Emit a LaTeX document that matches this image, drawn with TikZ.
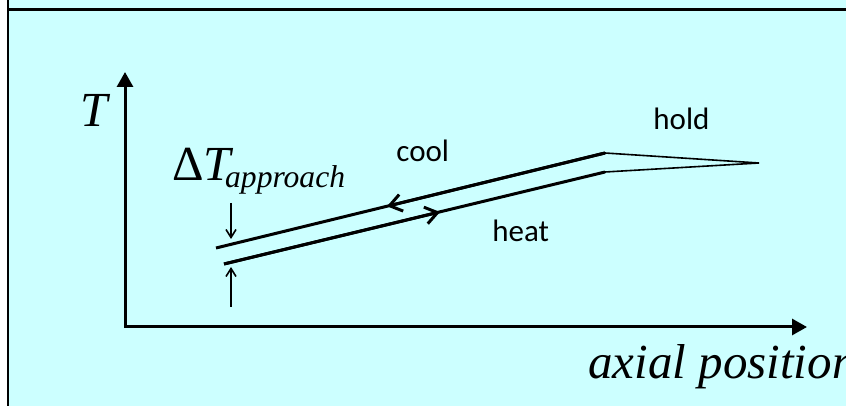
\documentclass[tikz,border=0pt]{standalone}
\usepackage{fontspec}
\setmainfont{Liberation Serif}
\newfontfamily\calfont{Carlito}
\usetikzlibrary{arrows.meta}
\definecolor{panelcyan}{RGB}{204,255,255}

\begin{document}
\begin{tikzpicture}[x=0.5pt, y=-0.5pt, >={Triangle[length=7.5pt,width=8pt]},
    lbl/.style={inner sep=0pt, anchor=base west},
    ital/.style={lbl, font=\fontsize{24.5}{28}\selectfont\itshape},
    cal/.style={lbl, font=\fontsize{15.5}{18}\selectfont\calfont},
    thickline/.style={line width=1.5pt},
    thinline/.style={line width=0.8pt},
    flowtip/.style={-{Straight Barb[length=6pt,width=8.5pt]}},
    gaptip/.style={-{Straight Barb[length=4pt,width=5pt]}}]
    % 背景面板
    \useasboundingbox (0,0) rectangle (846,406);
    \fill[panelcyan] (8,0) rectangle (846,406);
    \draw[line width=1.25pt] (8,0) -- (8,406);
    \draw[line width=1.5pt] (8,10) -- (846,10);

    % 坐标轴
    \coordinate (O) at (125,327);
    \coordinate (ytip) at (125,72);
    \coordinate (xtip) at (807,327);
    \draw[thickline,<->] (ytip) -- (O) -- (xtip);

    % 冷却线与加热线
    \coordinate (coolL) at (216,248);
    \coordinate (coolK) at (605,153);
    \coordinate (heatL) at (224,264);
    \coordinate (heatK) at (605,172);
    \coordinate (holdEnd) at (759,163);
    \coordinate (coolArr) at (387,206.3);
    \coordinate (heatArr) at (440,212);
    \draw[thickline] (coolL) -- (coolK);
    \draw[thickline] (heatL) -- (heatK);
    \draw[thickline,flowtip] (coolK) -- (coolArr);
    \draw[thickline,flowtip] (heatL) -- (heatArr);

    % 保温段
    \draw[thinline] (coolK) -- (holdEnd) -- (heatK);

    % 温差箭头
    \coordinate (gapTop) at (231,203);
    \coordinate (gapTopTip) at (231,239);
    \coordinate (gapBot) at (231,307);
    \coordinate (gapBotTip) at (231,267);
    \draw[thinline,gaptip] (gapTop) -- (gapTopTip);
    \draw[thinline,gaptip] (gapBot) -- (gapBotTip);

    % 标注
    \node[ital] (lblT) at (80,127) {T};
    \node[ital] (lblDelta) at (172,181) {\textup{Δ}T\kern-3pt\raisebox{-3.5pt}{\fontsize{15.8}{18}\selectfont approach}};
    \node[cal] (lblCool) at (396,162) {cool};
    \node[cal] (lblHeat) at (492,242) {heat};
    \node[cal] (lblHold) at (653,130) {hold};
    \node[ital] (lblAxial) at (588,379) {axial position};
\end{tikzpicture}
\end{document}
